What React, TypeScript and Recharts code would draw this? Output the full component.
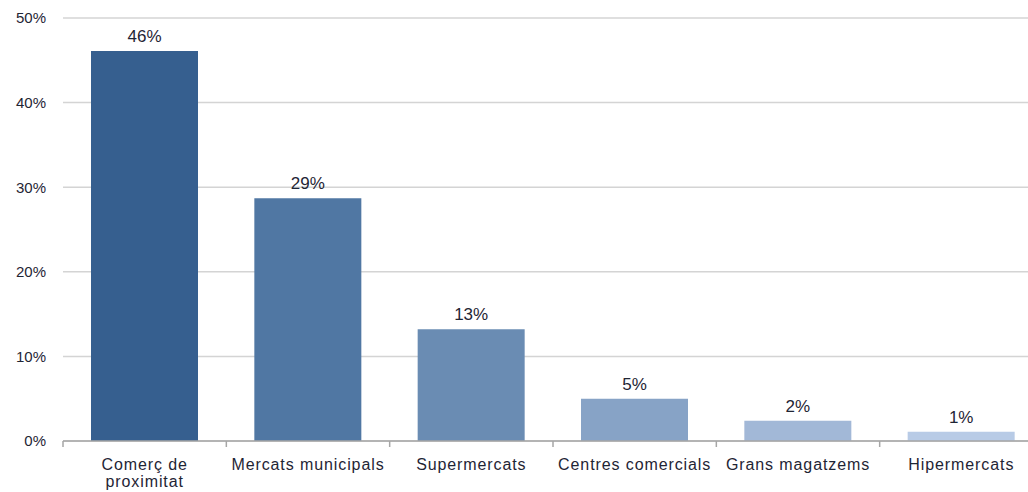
import { BarChart, Bar, XAxis, YAxis, CartesianGrid, Cell, LabelList } from "recharts";

const categories = [
  "Comerç de\nproximitat",
  "Mercats municipals",
  "Supermercats",
  "Centres comercials",
  "Grans magatzems",
  "Hipermercats"
];
const shares = [46.1, 28.7, 13.2, 5.0, 2.4, 1.1];
const barColors = ["#365f8f", "#5077a3", "#6a8cb3", "#87a3c6", "#a2b8d7", "#b8cbe6"];
const yTicks = [0, 10, 20, 30, 40, 50];

const data = categories.map((name, i) => ({ name, share: shares[i] }));

const FONT = "'Liberation Sans', Arial, sans-serif";
const AXIS_GRAY = "#a6a6a6";

// label plus a tick mark on each category boundary (half a band away from the centre)
function CategoryTick({ x, y, payload, index, visibleTicksCount }: any) {
  const lines = String(payload.value).split("\n");
  const half = payload.offset ?? 0;
  const last = index === visibleTicksCount - 1;
  return (
    <g>
      <line x1={x - half} x2={x - half} y1={y} y2={y + 6} stroke={AXIS_GRAY} strokeWidth={1.5} />
      {last && <line x1={x + half} x2={x + half} y1={y} y2={y + 6} stroke={AXIS_GRAY} strokeWidth={1.5} />}
      <text x={x} y={y + 29} textAnchor="middle" fontFamily={FONT} fontSize={16} letterSpacing={0.9} fill="#1f2535">
        {lines.map((line, i) => (
          <tspan key={i} x={x} dy={i === 0 ? 0 : 17}>
            {line}
          </tspan>
        ))}
      </text>
    </g>
  );
}

export default function App() {
  return (
    <div style={{ position: "fixed", left: 0, top: 0, width: 1028, height: 492, overflow: "hidden", background: "#fff" }}>
      <BarChart
        width={1043}
        height={492}
        data={data}
        margin={{ top: 18, right: 0, bottom: 0, left: 0 }}
      >
        <CartesianGrid vertical={false} stroke="#d4d4d4" strokeWidth={1.5} />
        <XAxis
          dataKey="name"
          interval={0}
          axisLine={{ stroke: AXIS_GRAY, strokeWidth: 1.5 }}
          tickLine={false}
          tickSize={0}
          tickMargin={0}
          height={51}
          tick={<CategoryTick />}
        />
        <YAxis
          width={63}
          domain={[0, 50]}
          ticks={yTicks}
          axisLine={false}
          tickLine={false}
          tickSize={0}
          tickMargin={17}
          tickFormatter={(v: number) => `${v}%`}
          tick={{ fontFamily: FONT, fontSize: 15, fill: "#1f2535" }}
        />
        <Bar dataKey="share" barSize={107} isAnimationActive={false}>
          {data.map((d, i) => (
            <Cell key={d.name} fill={barColors[i]} />
          ))}
          <LabelList
            dataKey="share"
            position="top"
            offset={9}
            formatter={(v: any) => `${Math.round(Number(v))}%`}
            style={{ fontFamily: FONT, fontSize: 17, fill: "#1f2535" }}
          />
        </Bar>
      </BarChart>
    </div>
  );
}
